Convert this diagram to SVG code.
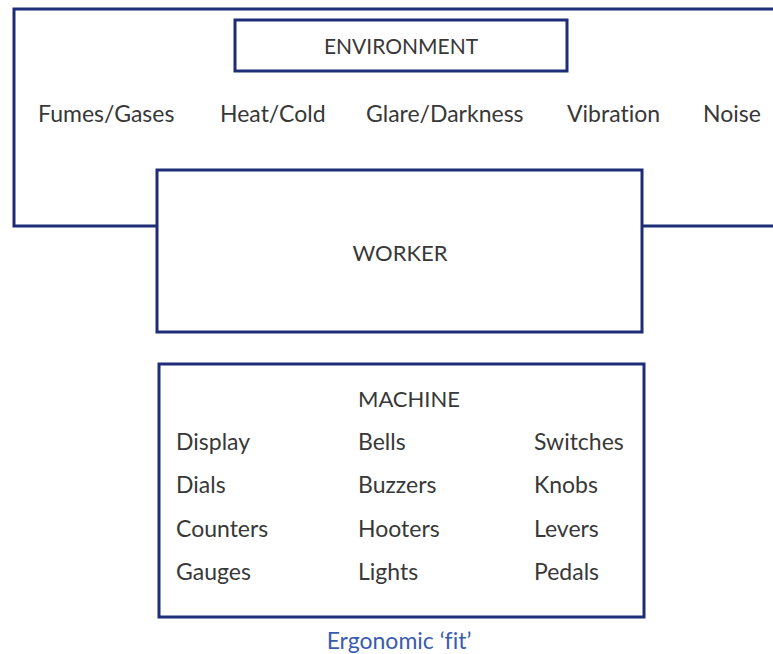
<svg xmlns="http://www.w3.org/2000/svg" width="773" height="654" viewBox="0 0 773 654">
  <style>
    .box { fill: none; stroke: #1e2d78; stroke-width: 3; stroke-linejoin: miter; }
    .lbl { font-family: Lato, "Open Sans", sans-serif; font-size: 23px; fill: #383838; font-variant-ligatures: none; }
    .mid { text-anchor: middle; }
    .cap { font-size: 21px; }
    .head { font-size: 22px; }
    .note { font-family: Lato, "Open Sans", sans-serif; font-size: 23px; fill: #3a5cad; text-anchor: middle; font-variant-ligatures: none; }
  </style>
  <rect width="773" height="654" fill="#ffffff"/>

  <!-- surrounding environment outline with the worker box set into its lower edge -->
  <g id="connectors">
    <path class="box" d="M775 9 H14 V226 H157 M642 226 H775"/>
  </g>

  <g id="environment">
    <rect class="box" x="235" y="20" width="332" height="51"/>
    <text class="lbl mid cap" x="401" y="54">ENVIRONMENT</text>
    <text class="lbl" x="38" y="122">Fumes/Gases</text>
    <text class="lbl" x="220" y="122">Heat/Cold</text>
    <text class="lbl" x="366" y="122">Glare/Darkness</text>
    <text class="lbl" x="567" y="122">Vibration</text>
    <text class="lbl" x="703" y="122">Noise</text>
  </g>

  <g id="worker">
    <rect class="box" x="157" y="170" width="485" height="162"/>
    <text class="lbl mid head" x="400" y="261">WORKER</text>
  </g>

  <g id="machine">
    <rect class="box" x="159" y="364" width="485" height="253"/>
    <text class="lbl mid head" x="409" y="407">MACHINE</text>
    <text class="lbl" x="176" y="450">Display</text>
    <text class="lbl" x="176" y="493">Dials</text>
    <text class="lbl" x="176" y="537">Counters</text>
    <text class="lbl" x="176" y="580">Gauges</text>
    <text class="lbl" x="358" y="450">Bells</text>
    <text class="lbl" x="358" y="493">Buzzers</text>
    <text class="lbl" x="358" y="537">Hooters</text>
    <text class="lbl" x="358" y="580">Lights</text>
    <text class="lbl" x="534" y="450">Switches</text>
    <text class="lbl" x="534" y="493">Knobs</text>
    <text class="lbl" x="534" y="537">Levers</text>
    <text class="lbl" x="534" y="580">Pedals</text>
  </g>

  <g id="caption">
    <text class="note" x="399" y="649">Ergonomic ‘fit’</text>
  </g>
</svg>
